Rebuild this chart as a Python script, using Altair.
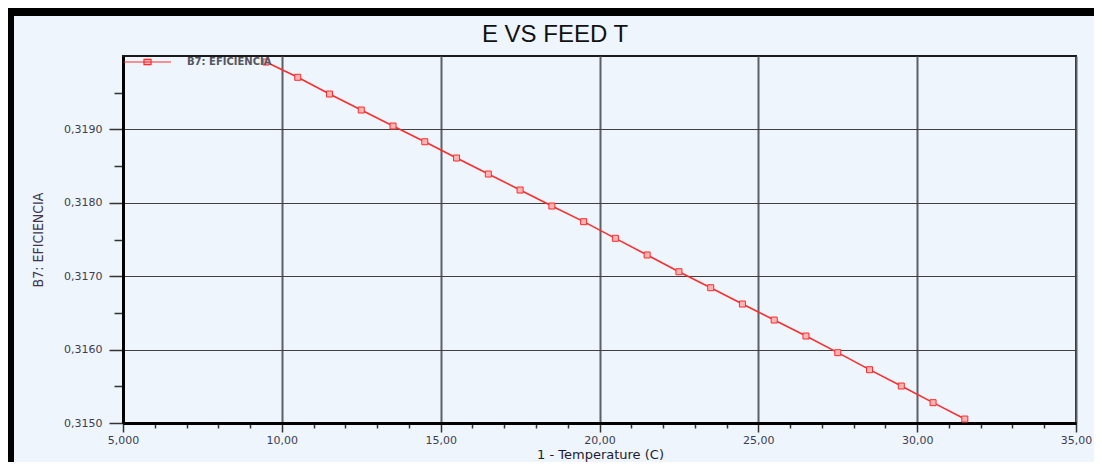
import altair as alt
import pandas as pd

# ---- data ----
temperature = [9.5, 10.5, 11.5, 12.5, 13.5, 14.5, 15.5, 16.5, 17.5, 18.5, 19.5, 20.5,
               21.5, 22.5, 23.5, 24.5, 25.5, 26.5, 27.5, 28.5, 29.5, 30.5, 31.5]
eficiencia = [0.319918, 0.319710, 0.319482, 0.319264, 0.319046, 0.318832, 0.318610,
              0.318392, 0.318174, 0.317956, 0.317743, 0.317516, 0.317289, 0.317061,
              0.316843, 0.316621, 0.316403, 0.316185, 0.315958, 0.315726, 0.315504,
              0.315277, 0.315054]
series_name = "B7: EFICIENCIA"
x_ticks = list(range(5, 36))
y_ticks = [0.315, 0.3155, 0.316, 0.3165, 0.317, 0.3175, 0.318, 0.3185, 0.319, 0.3195]
x_domain = [5, 35]
y_domain = [0.315, 0.320]

df = pd.DataFrame({"T": temperature, "E": eficiencia, "series": [series_name] * len(temperature)})

W, H = 953, 367
PAD_L, PAD_T = 115, 48
TOTAL_W, TOTAL_H = 1086, 454
PAD_R = TOTAL_W - PAD_L - W
PAD_B = TOTAL_H - PAD_T - H

RED = "#ff2b2b"
BG = "#eef5fd"

x_enc = alt.X(
    "T:Q",
    scale=alt.Scale(domain=x_domain, nice=False, zero=False),
    axis=alt.Axis(
        values=x_ticks,
        tickCount=len(x_ticks),
        title="1 - Temperature (C)",
        labelExpr="datum.value % 5 == 0 ? replace(format(datum.value, '.4r'), '.', ',') : ''",
        labelOverlap=False,
        tickSize={"condition": {"test": "datum.value % 5 != 0", "value": 5}, "value": 9},
        gridOpacity={"condition": {"test": "datum.value % 5 != 0", "value": 0}, "value": 1},
        grid=True, gridColor="#5f5f66", gridWidth=2,
        domainColor="#000000", domainWidth=3,
        tickColor="#333333", tickWidth=1.5,
        labelFont="DejaVu Sans", labelFontSize=11, labelColor="#3c3c50", labelPadding=2,
        labelFlush=False,
        titleFont="DejaVu Sans", titleFontSize=13, titleFontWeight="normal",
        titleColor="#1c1c2c", titleX=477, titleY=31, titleAlign="center",
        titleBaseline="middle",
    ),
)

y_enc = alt.Y(
    "E:Q",
    scale=alt.Scale(domain=y_domain, nice=False, zero=False),
    axis=alt.Axis(
        values=y_ticks,
        tickCount=len(y_ticks),
        title=series_name,
        labelExpr="round(datum.value * 2000) % 2 == 1 ? '' : replace(format(datum.value, '.4f'), '.', ',')",
        labelOverlap=False,
        tickSize={"condition": {"test": "round(datum.value * 2000) % 2 == 1", "value": 9}, "value": 14},
        gridOpacity={"condition": {"test": "round(datum.value * 2000) % 2 == 1", "value": 0}, "value": 1},
        grid=True, gridColor="#404040", gridWidth=1,
        domainColor="#000000", domainWidth=3,
        tickColor="#333333", tickWidth=1.5,
        labelFont="DejaVu Sans", labelFontSize=11, labelColor="#3c3c50", labelPadding=7,
        labelFlush=False,
        titleFont="DejaVu Sans Condensed, Liberation Sans Narrow, Arial Narrow, Liberation Sans",
        titleFontSize=14, titleFontWeight="normal", titleColor="#3e3450",
        titleX=-85, titleY=H / 2, titleAngle=270, titleAlign="center",
        titleBaseline="middle",
    ),
)

line = alt.Chart(df).mark_line(strokeWidth=1.5).encode(
    x=x_enc,
    y=y_enc,
    color=alt.Color(
        "series:N",
        scale=alt.Scale(range=[RED]),
        legend=alt.Legend(
            title=None,
            orient="none",
            legendX=0,
            legendY=-18.5,
            padding=0,
            symbolType="M-1,0H1M-0.15,-0.11H0.15V0.11H-0.15Z",
            symbolSize=2209,
            symbolStrokeColor=RED,
            symbolFillColor="#ffb5b5",
            symbolStrokeWidth=1.2,
            labelOffset=15,
            labelFont="DejaVu Sans",
            labelFontSize=10,
            labelFontWeight="bold",
            labelColor="#555560",
        ),
    ),
)

points = alt.Chart(df).mark_point(
    shape="square", size=36, fill="#ffb5b5", fillOpacity=1, stroke=RED, strokeWidth=1, opacity=1
).encode(x="T:Q", y="E:Q")

frame_df = pd.DataFrame({"k": [0]})
top_bar = alt.Chart(frame_df).mark_rect(color="#000000").encode(
    x=alt.value(-PAD_L), x2=alt.value(W + PAD_R), y=alt.value(-PAD_T), y2=alt.value(-PAD_T + 8)
)
left_bar = alt.Chart(frame_df).mark_rect(color="#000000").encode(
    x=alt.value(-PAD_L), x2=alt.value(-PAD_L + 6), y=alt.value(-PAD_T), y2=alt.value(H + PAD_B)
)

chart = (
    alt.layer(line, points, top_bar, left_bar)
    .properties(
        width=W,
        height=H,
        title=alt.TitleParams(
            "E VS FEED T", anchor="middle", frame="group", dx=-44.5, offset=0, dy=58,
            baseline="alphabetic", font="Liberation Sans", fontSize=24,
            fontWeight="normal", color="#111111",
        ),
        padding={"left": PAD_L, "top": PAD_T, "right": PAD_R, "bottom": PAD_B},
        autosize=alt.AutoSizeParams(type="none"),
        background=BG,
    )
    .configure_view(stroke="#1a1a1a", strokeWidth=2)
)

chart.save("out.html", embed_options={"renderer": "svg", "actions": False})
